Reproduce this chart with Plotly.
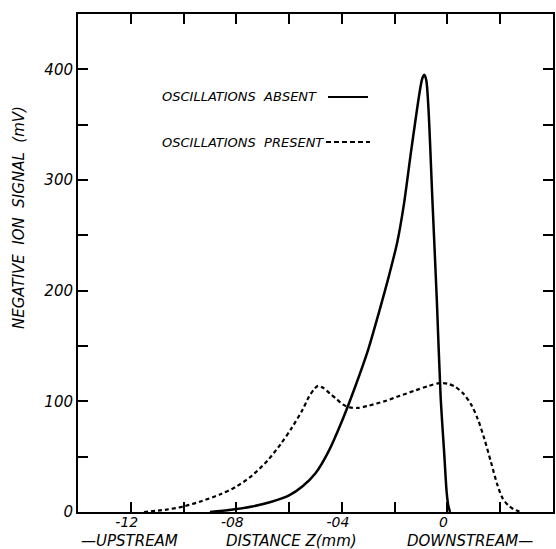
import plotly.graph_objects as go

# Oscillations absent (solid)
absent_x = [-0.90, -0.82, -0.74, -0.67, -0.60, -0.55, -0.50, -0.45, -0.40, -0.35, -0.30,
            -0.26, -0.22, -0.19, -0.165, -0.14, -0.12, -0.105, -0.095, -0.087, -0.08,
            -0.072, -0.057, -0.04, -0.026, -0.012, -0.003, 0.004, 0.01]
absent_y = [0, 2, 5, 9, 15, 23, 35, 55, 82, 113, 147, 180, 215, 244, 278, 322, 356, 380,
            392, 395, 390, 365, 282, 190, 105, 52, 18, 5, 0]

# Oscillations present (dashed)
present_x = [-1.15, -1.07, -1.00, -0.93, -0.86, -0.80, -0.74, -0.68, -0.63, -0.59, -0.55,
             -0.525, -0.505, -0.49, -0.47, -0.445, -0.42, -0.395, -0.37, -0.34, -0.30,
             -0.24, -0.18, -0.12, -0.07, -0.03, 0.0, 0.03, 0.06, 0.09, 0.115, 0.14, 0.165,
             0.19, 0.21, 0.235, 0.26, 0.28]
present_y = [0, 2, 5, 10, 16, 23, 33, 47, 62, 76, 92, 104, 111, 114, 112, 107, 102, 97,
             94.5, 94, 96, 100, 105, 110, 114, 116.5, 116, 113, 107, 97, 84, 66, 45, 24,
             12, 5, 1.5, 0]

x_tickvals = [-1.2, -1.0, -0.8, -0.6, -0.4, -0.2, 0.0, 0.2, 0.4]
x_ticktext = ["-12", "", "-08", "", "-04", "", "0", "", "04"]
y_tickvals = [0, 50, 100, 150, 200, 250, 300, 350, 400]
y_ticktext = ["0", "", "100", "", "200", "", "300", "", "400"]

FONT = "DejaVu Sans"

fig = go.Figure()
fig.add_trace(go.Scatter(x=absent_x, y=absent_y, mode="lines",
                         line=dict(color="black", width=2.5, shape="spline", smoothing=0.8),
                         showlegend=False))
fig.add_trace(go.Scatter(x=present_x, y=present_y, mode="lines",
                         line=dict(color="black", width=2.2, dash="4px,3px",
                                   shape="spline", smoothing=0.8),
                         showlegend=False))

axis_common = dict(showgrid=False, zeroline=False, showline=True, linecolor="black",
                   linewidth=2, mirror="allticks", ticks="inside", ticklen=10,
                   tickwidth=1.5, tickcolor="black")

fig.update_xaxes(range=[-1.4, 0.4], tickvals=x_tickvals, ticktext=x_ticktext,
                 tickfont=dict(family=FONT, size=14, color="black", style="italic"),
                 ticklabelshift=-4, ticklabelstandoff=-4, **axis_common)
fig.update_yaxes(range=[0, 450], tickvals=y_tickvals, ticktext=y_ticktext,
                 tickfont=dict(family=FONT, size=15, color="black", style="italic"),
                 **axis_common)

L, R, T, B = 78, 3, 14, 37
W, H = 556, 549
pw, ph = W - L - R, H - T - B


def px(xp):
    return (xp - L) / pw


def py(yp):
    return (H - B - yp) / ph


ann_font = dict(family=FONT, size=15, color="black", style="italic")
leg_font = dict(family=FONT, size=13, color="black", style="italic")

annotations = [
    dict(text="NEGATIVE  ION  SIGNAL  (mV)", x=px(19), y=py(218), textangle=-90,
         xanchor="center", yanchor="middle", font=ann_font),
    dict(text="\u2014UPSTREAM", x=px(129), y=py(541), xanchor="center", yanchor="middle",
         font=ann_font, borderpad=0),
    dict(text="DISTANCE Z(mm)", x=px(291), y=py(541), xanchor="center", yanchor="middle",
         font=ann_font, borderpad=0),
    dict(text="DOWNSTREAM\u2014", x=px(470), y=py(541), xanchor="center", yanchor="middle",
         font=ann_font, borderpad=0),
    dict(text="OSCILLATIONS  ABSENT", x=px(160), y=py(97), xanchor="left", yanchor="middle",
         font=leg_font),
    dict(text="OSCILLATIONS  PRESENT", x=px(160), y=py(142), xanchor="left",
         yanchor="middle", font=leg_font),
]
for a in annotations:
    a.update(xref="paper", yref="paper", showarrow=False)

shapes = [
    dict(type="line", xref="paper", yref="paper", x0=px(328), x1=px(368), y0=py(97),
         y1=py(97), line=dict(color="black", width=2)),
    dict(type="line", xref="paper", yref="paper", x0=px(326), x1=px(370), y0=py(142),
         y1=py(142), line=dict(color="black", width=2, dash="5px,3px")),
]

fig.update_layout(width=W, height=H, margin=dict(l=L, r=R, t=T, b=B, autoexpand=False),
                  plot_bgcolor="white", paper_bgcolor="white", annotations=annotations,
                  shapes=shapes, showlegend=False)

fig.write_html("out.html")
